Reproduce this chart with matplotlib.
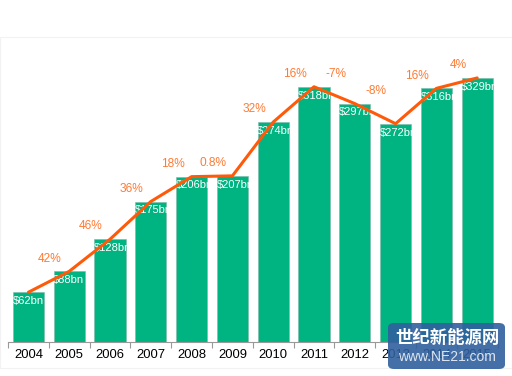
import matplotlib.pyplot as plt
from matplotlib.patches import FancyBboxPatch, Rectangle

# Data
years = ["2004", "2005", "2006", "2007", "2008", "2009", "2010", "2011", "2012", "2013", "2014", "2015"]
invest = [62, 88, 128, 175, 206, 207, 274, 318, 297, 272, 316, 329]
growth = ["42%", "46%", "36%", "18%", "0.8%", "32%", "16%", "-7%", "-8%", "16%", "4%"]

bar_color = "#00B482"
line_color = "#FF5A0A"
label_color = "#FF7A33"

plt.rcParams["font.family"] = ["Liberation Sans", "DejaVu Sans"]

fig = plt.figure(figsize=(5.12, 3.76), dpi=100)
ax = fig.add_axes([8 / 512, 1 - 342 / 376, 489.6 / 512, 305 / 376])

x = list(range(len(years)))
bars = ax.bar(x, invest, width=0.76, color=bar_color, edgecolor="#7FB8A8", linewidth=0.4, zorder=2)

# value labels, clipped to the bar
for b, v in zip(bars, invest):
    t = ax.text(b.get_x() - 0.01, v - 11, f"${v}bn", color="white", fontsize=8,
                ha="left", va="center", zorder=3)
    t.set_clip_path(b)

ax.plot(x, invest, color=line_color, linewidth=2.2, zorder=4, solid_capstyle="round")

# growth labels between bars
for i, g in enumerate(growth):
    ax.text(i + 0.53, max(invest[i], invest[i + 1]) + 16, g, color=label_color,
            fontsize=8.6, ha="center", va="center", zorder=5)

ax.set_xlim(-0.5, 11.5)
ax.set_ylim(0, 380)
ax.set_yticks([])
ax.set_xticks(x)
ax.set_xticklabels(years, fontsize=9.4)
ax.tick_params(axis="x", length=0, pad=5)
ax.set_xticks([i - 0.5 for i in range(len(years) + 1)], minor=True)
ax.tick_params(axis="x", which="minor", length=4, color="#999999", width=0.8)
for s in ["top", "right", "left"]:
    ax.spines[s].set_visible(False)
ax.spines["bottom"].set_color("#999999")
ax.spines["bottom"].set_linewidth(0.8)

# faint frame
fig.patches.append(Rectangle((0, 1 - 368 / 376), 1, 331 / 376, transform=fig.transFigure,
                             fill=False, edgecolor="#F2F2F2", linewidth=0.8))

# watermark
fig.patches.append(FancyBboxPatch((388 / 512, 1 - 369 / 376), 117 / 512, 46 / 376,
                                  boxstyle="round,pad=0,rounding_size=0.012",
                                  transform=fig.transFigure, facecolor="#2F5F9E",
                                  alpha=0.9, edgecolor="none", zorder=10))
fig.text(447 / 512, 1 - 338 / 376, "世纪新能源网", color="white", fontsize=12.5,
         fontweight="bold", ha="center", va="center", zorder=11,
         family=["Noto Sans CJK SC", "DejaVu Sans"])
fig.text(447 / 512, 1 - 357 / 376, "www.NE21.com", color="#DDE6F2", fontsize=10,
         ha="center", va="center", zorder=11)

fig.savefig("out.png", dpi=100)
